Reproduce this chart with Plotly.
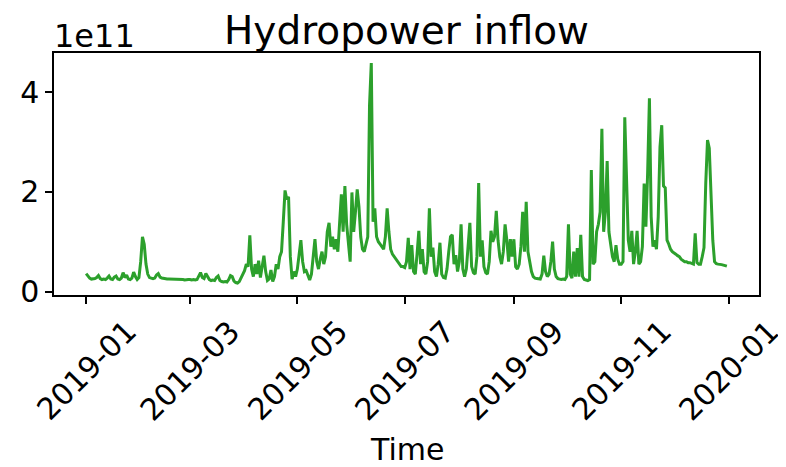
import pandas as pd
import plotly.graph_objects as go

# Daily hydropower inflow, in units of 1e11
jan = [0.36,0.31,0.27,0.25,0.25,0.26,0.28,0.32,0.26,0.24,0.25,0.24,0.27,0.31,0.25,0.24,0.29,0.31,0.25,0.24,0.27,0.38,0.28,0.33,0.25,0.24,0.27,0.39,0.30,0.24,0.28]
feb = [0.60,1.10,0.95,0.55,0.35,0.28,0.27,0.26,0.27,0.33,0.36,0.29,0.27,0.26,0.26,0.25,0.25,0.25,0.25,0.24,0.24,0.25,0.24,0.24,0.24,0.23,0.24,0.24]
mar = [0.24,0.23,0.24,0.23,0.24,0.30,0.38,0.28,0.26,0.36,0.30,0.24,0.22,0.23,0.22,0.28,0.31,0.22,0.20,0.19,0.20,0.19,0.24,0.32,0.30,0.21,0.18,0.17,0.20,0.28,0.35]
apr = [0.42,0.55,0.50,1.13,0.45,0.30,0.55,0.35,0.62,0.28,0.50,0.72,0.40,0.22,0.25,0.43,0.20,0.30,0.55,0.45,0.70,0.80,1.40,2.03,1.85,1.90,0.70,0.25,0.40,0.30]
may = [0.45,0.70,1.03,0.60,0.40,0.42,0.30,0.23,0.35,0.65,1.05,0.60,0.45,0.65,0.80,0.55,0.70,1.20,1.38,0.90,1.10,0.85,1.05,0.80,1.50,1.95,1.20,2.12,1.35,0.90,0.60]
jun = [1.99,1.20,1.60,2.05,1.70,1.10,0.85,0.80,0.95,1.10,3.74,4.59,1.40,1.67,1.10,1.00,0.95,0.90,0.85,1.10,1.67,1.20,0.85,0.75,0.70,0.65,0.60,0.55,0.50,0.50]
jul = [0.48,0.60,1.08,0.45,0.93,0.40,0.35,0.75,1.22,0.55,0.85,0.40,0.35,0.60,1.67,0.70,0.88,0.40,0.30,0.55,0.98,0.35,0.28,0.27,0.45,0.80,1.10,1.14,0.55,0.73,0.40]
aug = [0.60,1.35,0.45,0.30,0.45,0.90,1.38,0.50,0.38,0.35,0.70,2.18,0.70,1.03,0.50,0.38,0.35,0.60,1.22,1.00,1.10,1.62,1.03,0.70,0.55,0.80,1.35,1.03,0.60,1.05,0.70]
sep = [1.05,0.50,0.45,0.55,0.90,1.60,0.80,1.80,0.80,0.55,0.40,0.30,0.27,0.26,0.26,0.25,0.35,0.72,0.40,0.30,0.35,0.60,1.00,0.45,0.30,0.26,0.25,0.24,0.25,0.24]
oct_ = [0.30,1.35,0.35,0.27,0.80,0.30,0.87,0.30,1.14,0.30,0.24,0.23,0.22,0.24,2.44,0.55,0.60,1.20,1.35,1.60,3.27,1.20,1.60,2.62,1.20,0.95,0.70,0.60,0.93,0.65,0.55]
nov = [0.55,0.60,3.50,1.96,1.03,0.80,1.22,0.55,0.80,1.22,0.55,0.60,0.90,2.17,1.30,2.40,3.88,1.50,0.90,1.03,0.85,1.50,2.90,3.34,2.12,2.08,1.03,0.95,0.85,0.80]
dec = [0.78,0.75,0.72,0.70,0.65,0.62,0.60,0.60,0.58,0.58,0.56,0.55,1.17,0.58,0.55,0.55,0.70,0.88,2.17,3.04,2.88,2.00,1.03,0.60,0.56,0.55,0.55,0.54,0.53,0.52,0.51]

scale = 1e11
inflow = [v * scale for v in jan + feb + mar + apr + may + jun + jul + aug + sep + oct_ + nov + dec]
dates = pd.date_range("2019-01-01", periods=len(inflow), freq="D")

x_ticks = ["2019-01-01", "2019-03-01", "2019-05-01", "2019-07-01", "2019-09-01", "2019-11-01", "2020-01-01"]
x_tick_labels = ["2019-01", "2019-03", "2019-05", "2019-07", "2019-09", "2019-11", "2020-01"]
y_ticks = [0, 2e11, 4e11]
y_tick_labels = ["0", "2", "4"]

FONT = "DejaVu Sans"

fig = go.Figure()
fig.add_trace(go.Scatter(x=dates, y=inflow, mode="lines",
                         line=dict(color="#2ca02c", width=3), showlegend=False))

annotations = []
for t, lab in zip(x_ticks, x_tick_labels):
    annotations.append(dict(x=t, xref="x", y=0, yref="paper", yshift=-16, xshift=0,
                            text=lab, textangle=-45, showarrow=False,
                            xanchor="center", yanchor="top",
                            font=dict(family=FONT, size=30, color="black")))
annotations.append(dict(x=0.5, xref="paper", y=0, yref="paper", yshift=-154,
                        text="Time", showarrow=False, xanchor="center", yanchor="middle",
                        font=dict(family=FONT, size=30, color="black")))
annotations.append(dict(x=0.5, xref="paper", y=1, yref="paper", yshift=23,
                        text="Hydropower inflow", showarrow=False, xanchor="center", yanchor="middle",
                        font=dict(family=FONT, size=39, color="black")))
annotations.append(dict(x=0, xref="paper", y=1, yref="paper", yshift=17, xshift=-2,
                        text="1e11", showarrow=False, xanchor="left", yanchor="middle",
                        font=dict(family=FONT, size=32, color="black")))

fig.update_layout(
    width=778, height=459,
    margin=dict(l=37, r=27, t=45, b=172),
    paper_bgcolor="white", plot_bgcolor="white",
    annotations=annotations,
    xaxis=dict(range=["2018-12-13 18:00", "2020-01-18 06:00"], tickvals=x_ticks,
               showticklabels=False, ticks="outside", ticklen=7, tickwidth=1.5, tickcolor="black",
               showgrid=False, zeroline=False, showline=True, linecolor="black", linewidth=1.5,
               mirror=True),
    yaxis=dict(range=[-0.07e11, 4.79e11], tickvals=y_ticks, ticktext=y_tick_labels,
               ticks="outside", ticklen=7, tickwidth=1.5, tickcolor="black",
               tickfont=dict(family=FONT, size=30, color="black"),
               showgrid=False, zeroline=False, showline=True, linecolor="black", linewidth=1.5,
               mirror=True),
)

fig.write_html("out.html")
